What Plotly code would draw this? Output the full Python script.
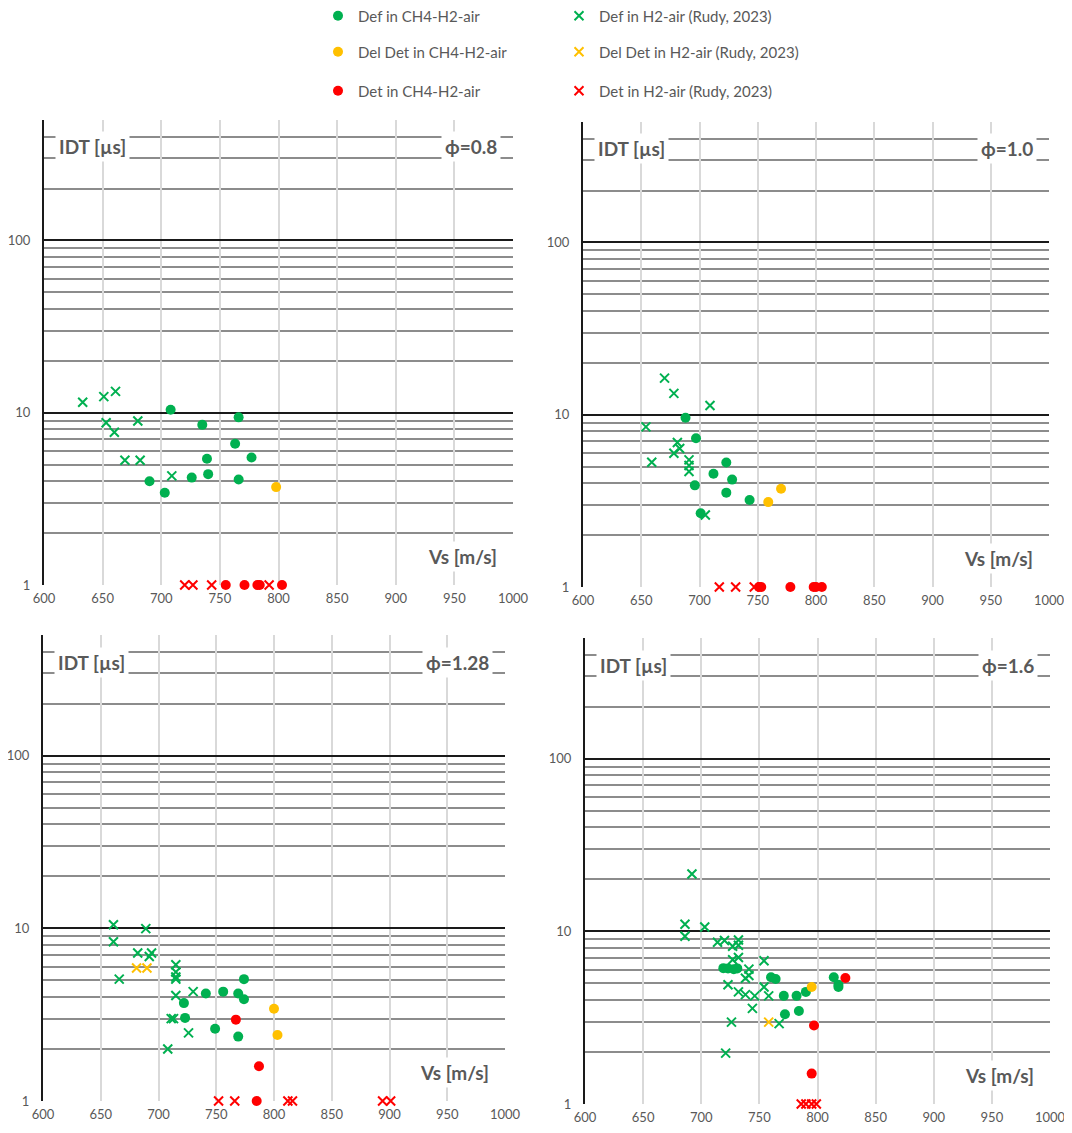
import plotly.graph_objects as go

# ---------------- data (Vs [m/s], IDT [µs]) ----------------
# phi = 0.8
p08_def_ch4_v = [708, 735, 766, 763, 739, 777, 690, 703, 726, 740, 766]
p08_def_ch4_t = [10.4, 8.5, 9.4, 6.6, 5.4, 5.5, 4.0, 3.43, 4.2, 4.4, 4.1]
p08_def_h2_v = [633, 651, 661, 653, 660, 680, 669, 682, 709]
p08_def_h2_t = [11.5, 12.4, 13.3, 8.75, 7.7, 8.95, 5.3, 5.3, 4.3]
p08_del_ch4_v = [798]
p08_del_ch4_t = [3.7]
p08_del_h2_v = []
p08_del_h2_t = []
p08_det_ch4_v = [755, 771, 782, 784, 803]
p08_det_ch4_t = [1, 1, 1, 1, 1]
p08_det_h2_v = [720, 727, 743, 792]
p08_det_h2_t = [1, 1, 1, 1]

# phi = 1.0
p10_def_ch4_v = [688, 697, 723, 712, 728, 696, 723, 743, 701]
p10_def_ch4_t = [9.6, 7.3, 5.28, 4.54, 4.2, 3.89, 3.53, 3.2, 2.68]
p10_def_h2_v = [670, 678, 709, 654, 681, 683, 678, 659, 691, 691, 691, 705]
p10_def_h2_t = [16.3, 13.3, 11.3, 8.5, 6.9, 6.36, 5.97, 5.3, 5.47, 5.07, 4.68, 2.62]
p10_del_ch4_v = [770, 759]
p10_del_ch4_t = [3.72, 3.11]
p10_del_h2_v = []
p10_del_h2_t = []
p10_det_ch4_v = [751, 753, 778, 798, 800, 805]
p10_det_ch4_t = [1, 1, 1, 1, 1, 1]
p10_det_h2_v = [717, 731, 747]
p10_det_h2_t = [1, 1, 1]

# phi = 1.28
p128_def_ch4_v = [774, 722, 741, 756, 769, 774, 723, 749, 769]
p128_def_ch4_t = [5.08, 3.69, 4.19, 4.3, 4.19, 3.88, 3.03, 2.62, 2.36]
p128_def_h2_v = [661, 689, 661, 682, 694, 692, 666, 715, 715, 715, 715, 730, 715, 711, 713, 726, 708]
p128_def_h2_t = [10.5, 9.96, 8.36, 7.2, 7.2, 6.87, 5.08, 6.15, 5.59, 5.23, 5.08, 4.3, 4.08, 3.0, 3.0, 2.48, 2.0]
p128_del_ch4_v = [800, 803]
p128_del_ch4_t = [3.42, 2.41]
p128_del_h2_v = [681, 690]
p128_del_h2_t = [5.89, 5.89]
p128_det_ch4_v = [767, 787, 785]
p128_det_ch4_t = [2.96, 1.59, 1]
p128_det_h2_v = [752, 766, 812, 816, 894, 901]
p128_det_h2_t = [1, 1, 1, 1, 1, 1]

# phi = 1.6
p16_def_ch4_v = [719, 723, 728, 731, 760, 764, 771, 782, 790, 772, 784, 814, 818, 818]
p16_def_ch4_t = [6.12, 6.1, 6.04, 6.1, 5.42, 5.3, 4.23, 4.23, 4.46, 3.31, 3.46, 5.42, 4.9, 4.76]
p16_def_h2_v = [692, 686, 703, 686, 714, 720, 732, 727, 732, 732, 727, 754, 741, 741, 738,
                723, 732, 738, 746, 754, 758, 744, 726, 767, 721]
p16_def_h2_t = [21.5, 11.0, 10.6, 9.36, 8.65, 8.85, 8.9, 8.2, 8.3, 7.05, 6.84, 6.75, 6.04, 5.55, 5.35,
                4.9, 4.46, 4.3, 4.23, 4.76, 4.23, 3.58, 2.98, 2.92, 1.97]
p16_del_ch4_v = [795]
p16_del_ch4_t = [4.76]
p16_del_h2_v = [758]
p16_del_h2_t = [2.98]
p16_det_ch4_v = [824, 797, 795]
p16_det_ch4_t = [5.37, 2.85, 1.5]
p16_det_h2_v = [786, 790, 795, 799]
p16_det_h2_t = [1, 1, 1, 1]

panel_labels = ["ϕ=0.8", "ϕ=1.0", "ϕ=1.28", "ϕ=1.6"]
x_ticks = [600, 650, 700, 750, 800, 850, 900, 950, 1000]
y_ticks = [1, 10, 100]
y_minor = [2, 3, 4, 5, 6, 7, 8, 9, 20, 30, 40, 50, 60, 70, 80, 90, 200, 300, 400, 500]

series_names = ["Def in CH4-H2-air", "Def in H2-air (Rudy, 2023)",
                "Del Det in CH4-H2-air", "Del Det in H2-air (Rudy, 2023)",
                "Det in CH4-H2-air", "Det in H2-air (Rudy, 2023)"]

panels = [
    [(p08_def_ch4_v, p08_def_ch4_t), (p08_def_h2_v, p08_def_h2_t), (p08_del_ch4_v, p08_del_ch4_t),
     (p08_del_h2_v, p08_del_h2_t), (p08_det_ch4_v, p08_det_ch4_t), (p08_det_h2_v, p08_det_h2_t)],
    [(p10_def_ch4_v, p10_def_ch4_t), (p10_def_h2_v, p10_def_h2_t), (p10_del_ch4_v, p10_del_ch4_t),
     (p10_del_h2_v, p10_del_h2_t), (p10_det_ch4_v, p10_det_ch4_t), (p10_det_h2_v, p10_det_h2_t)],
    [(p128_def_ch4_v, p128_def_ch4_t), (p128_def_h2_v, p128_def_h2_t), (p128_del_ch4_v, p128_del_ch4_t),
     (p128_del_h2_v, p128_del_h2_t), (p128_det_ch4_v, p128_det_ch4_t), (p128_det_h2_v, p128_det_h2_t)],
    [(p16_def_ch4_v, p16_def_ch4_t), (p16_def_h2_v, p16_def_h2_t), (p16_del_ch4_v, p16_del_ch4_t),
     (p16_del_h2_v, p16_del_h2_t), (p16_det_ch4_v, p16_det_ch4_t), (p16_det_h2_v, p16_det_h2_t)],
]

# ---------------- styling ----------------
OFF = 8  # default page body margin
W, H = 1072 - 2 * OFF, 1133 - 2 * OFF
GREEN, YELLOW, RED = "#00B050", "#FFC000", "#FF0000"
colors = [GREEN, GREEN, YELLOW, YELLOW, RED, RED]
legend_ids = ["legend", "legend", "legend2", "legend2", "legend3", "legend3"]
FONT = "Lato, 'Open Sans', sans-serif"
TXT = "#595959"

# plot area rectangles in screen pixels (left, right, top, bottom)
rects = [(44, 513, 120, 585), (583, 1049, 122, 587), (43, 505, 635, 1101), (585, 1050, 638, 1104)]

fig = go.Figure()
shown = set()
for pi, series in enumerate(panels):
    xa = "x" if pi == 0 else f"x{pi + 1}"
    ya = "y" if pi == 0 else f"y{pi + 1}"
    for si, (vs, ts) in enumerate(series):
        is_cross = si % 2 == 1
        show = False
        if len(vs) > 0 and si not in shown:
            show = True
            shown.add(si)
        if is_cross:
            marker = dict(symbol="x-thin", size=9, color=colors[si],
                          line=dict(color=colors[si], width=2))
        else:
            marker = dict(symbol="circle", size=10, color=colors[si], line=dict(width=0))
        fig.add_trace(go.Scatter(
            x=vs, y=ts, mode="markers", name=series_names[si], marker=marker,
            xaxis=xa, yaxis=ya, showlegend=show, legend=legend_ids[si],
            cliponaxis=False, legendrank=si,
        ))

layout = dict(
    width=W, height=H, margin=dict(l=0, r=0, t=0, b=0, autoexpand=False),
    paper_bgcolor="white", plot_bgcolor="white",
    font=dict(family=FONT, color=TXT, size=13),
)

for pi, (l, r, t, b) in enumerate(rects):
    l, r, t, b = l - OFF, r - OFF, t - OFF, b - OFF
    xk = "xaxis" if pi == 0 else f"xaxis{pi + 1}"
    yk = "yaxis" if pi == 0 else f"yaxis{pi + 1}"
    xa = "x" if pi == 0 else f"x{pi + 1}"
    ya = "y" if pi == 0 else f"y{pi + 1}"
    layout[xk] = dict(
        domain=[l / W, r / W], anchor=ya, range=[600, 1000], automargin=False,
        tickvals=x_ticks, ticktext=[str(v) for v in x_ticks],
        showgrid=True, gridcolor="#D9D9D9", gridwidth=1.5,
        showline=False, zeroline=False, ticks="", ticklabelstandoff=4,
        ticklabeloverflow="allow",
        tickfont=dict(size=13, color=TXT, family=FONT),
    )
    layout[yk] = dict(
        domain=[1 - b / H, 1 - t / H], anchor=xa, type="log", range=[0, 2.699], automargin=False,
        tickvals=y_ticks, ticktext=[str(v) for v in y_ticks],
        showgrid=True, gridcolor="#1A1A1A", gridwidth=2,
        minor=dict(tickvals=y_minor, showgrid=True, gridcolor="#8C8C8C", gridwidth=1.5, ticks=""),
        showline=True, linecolor="#1A1A1A", linewidth=2,
        zeroline=False, ticks="", ticklabelstandoff=9,
        ticklabeloverflow="allow",
        tickfont=dict(size=13, color=TXT, family=FONT),
    )

annotations = []
for pi, lab in enumerate(panel_labels):
    xr = "x domain" if pi == 0 else f"x{pi + 1} domain"
    yr = "y domain" if pi == 0 else f"y{pi + 1} domain"
    common = dict(xref=xr, yref=yr, showarrow=False, bgcolor="white",
                  font=dict(family=FONT, size=19, color=TXT), borderpad=3)
    annotations.append(dict(text="<b>IDT [µs]</b>", x=0.024, y=0.942, xanchor="left", yanchor="middle", **common))
    annotations.append(dict(text="<b>" + lab + "</b>", x=0.975, y=0.942, xanchor="right", yanchor="middle", **common))
    annotations.append(dict(text="<b>Vs [m/s]</b>", x=0.975, y=0.062, xanchor="right", yanchor="middle", **common))
layout["annotations"] = annotations

leg_common = dict(orientation="h", xanchor="left", yanchor="middle", x=(318 - OFF) / W,
                  entrywidth=196, entrywidthmode="pixels", bgcolor="rgba(0,0,0,0)",
                  font=dict(family=FONT, size=15, color=TXT), itemclick=False)
layout["legend"] = dict(y=1 - (16 - OFF) / H, **leg_common)
layout["legend2"] = dict(y=1 - (52 - OFF) / H, **leg_common)
layout["legend3"] = dict(y=1 - (91 - OFF) / H, **leg_common)

fig.update_layout(**layout)
fig.write_html("out.html")
